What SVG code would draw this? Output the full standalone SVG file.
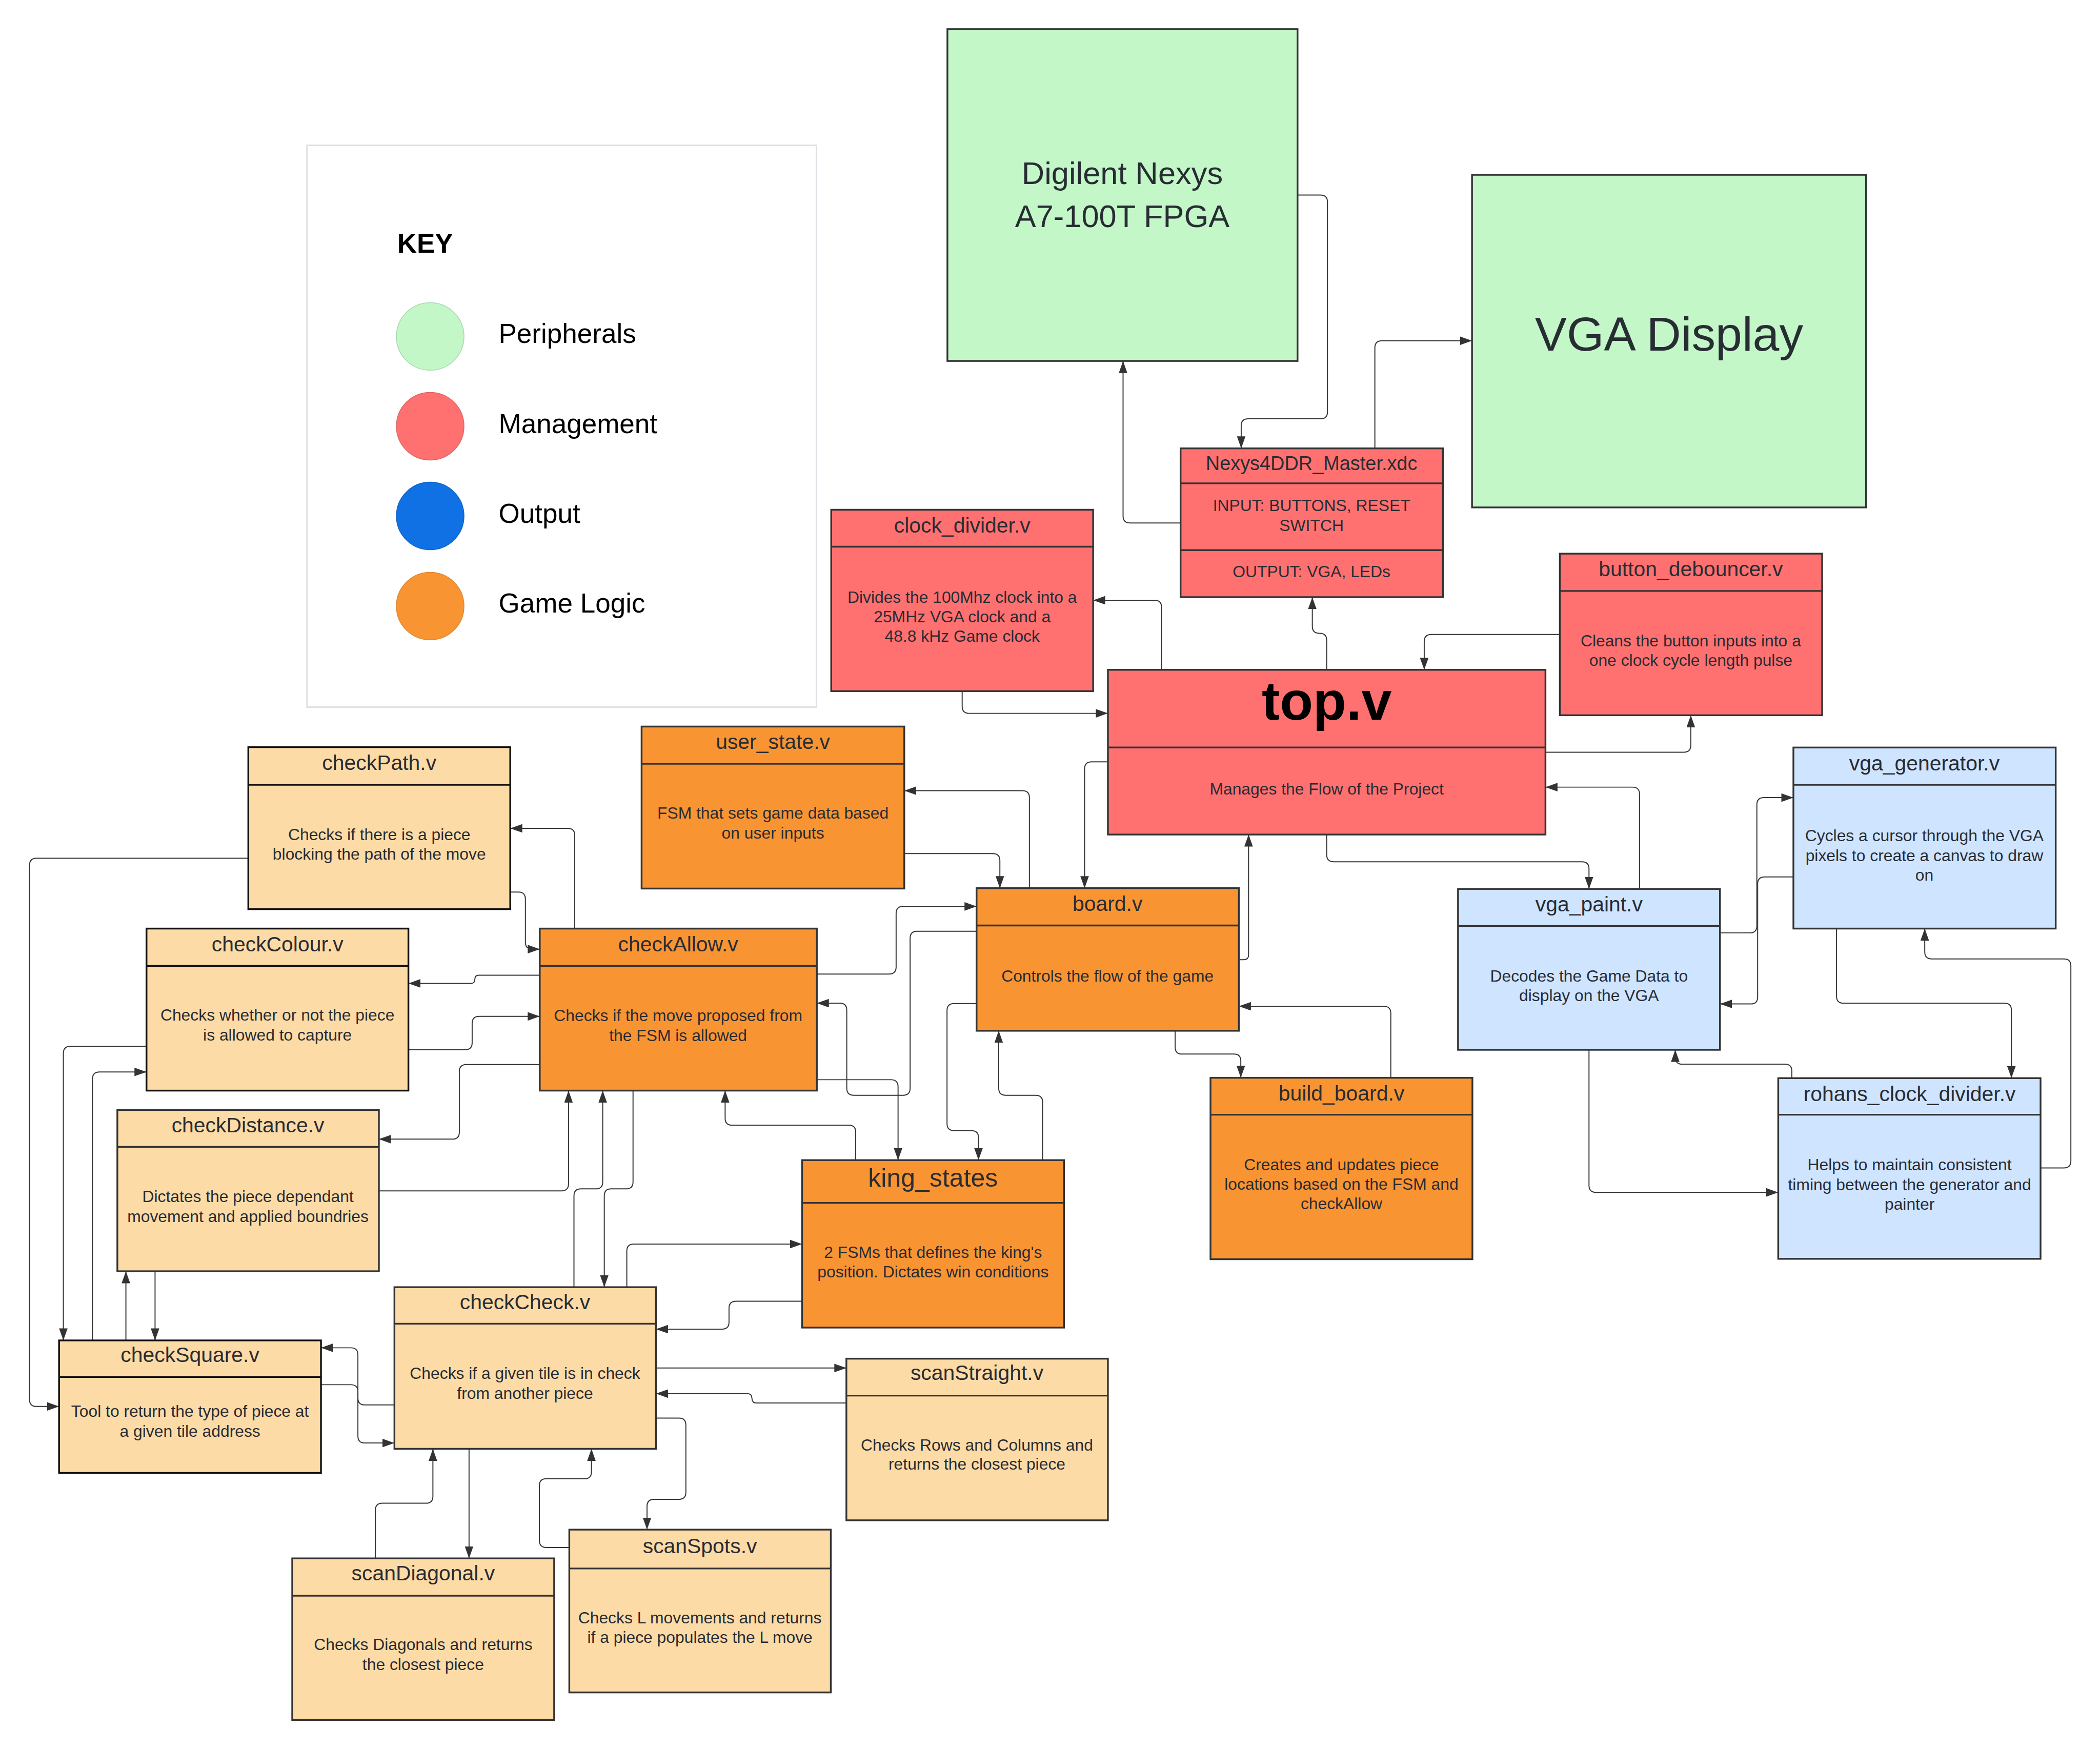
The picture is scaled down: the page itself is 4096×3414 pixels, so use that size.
<svg xmlns="http://www.w3.org/2000/svg" width="4096" height="3414" viewBox="0 0 4096 3414">
<defs>
<marker id="ar" markerUnits="userSpaceOnUse" markerWidth="32" markerHeight="22" refX="31" refY="11" orient="auto"><path d="M0,0 L31,11 L0,22 z" fill="#333"/></marker>
<style>
text{font-family:"Liberation Sans",Arial,sans-serif;fill:#282C33;text-anchor:middle}
.box{stroke:#333;stroke-width:4.5}
.g{fill:#C3F7C8}.r{fill:#FF7070}.o{fill:#F99433}.lo{fill:#FDDBA6}.lb{fill:#CFE4FF}
.dv{stroke:#333;stroke-width:4.5}
.t{font-size:54px}.x{font-size:42px}
.k{font-size:70px;fill:#000;text-anchor:start}
.c path{fill:none;stroke:#333;stroke-width:2.6;marker-end:url(#ar)}
</style>
</defs>
<rect width="4096" height="3414" fill="#fff"/>
<g transform="scale(0.75796)">
<g id="key">
<rect x="790" y="374" width="1311" height="1446" fill="#fff" stroke="#DDE1E6" stroke-width="4"/>
<text class="k" x="1022" y="651" style="font-weight:bold">KEY</text>
<circle cx="1107" cy="866" r="87" fill="#C3F7C8" stroke="#A6D8AC" stroke-width="2"/>
<circle cx="1107" cy="1097" r="87" fill="#FF7070" stroke="#E06464" stroke-width="2"/>
<circle cx="1107" cy="1328" r="87" fill="#1071E5" stroke="#0F62C6" stroke-width="2"/>
<circle cx="1107" cy="1560" r="87" fill="#F99433" stroke="#E0842C" stroke-width="2"/>
<text class="k" x="1283" y="882">Peripherals</text>
<text class="k" x="1283" y="1115">Management</text>
<text class="k" x="1283" y="1346">Output</text>
<text class="k" x="1283" y="1577">Game Logic</text>
</g>
<g class="c" id="connectors">
<path d="M3339,502 H3398 Q3416,502 3416,520 V1060 Q3416,1078 3398,1078 H3212 Q3194,1078 3194,1096 V1154"/>
<path d="M3038,1346 H2908 Q2890,1346 2890,1328 V929"/>
<path d="M3538,1154 V895 Q3538,877 3556,877 H3788"/>
<path d="M3414,1724 V1648 Q3414,1630 3396,1630 H3395 Q3377,1630 3377,1612 V1537"/>
<path d="M2989,1724 V1563 Q2989,1545 2971,1545 H2813"/>
<path d="M2476,1779 V1818 Q2476,1836 2494,1836 H2851"/>
<path d="M4014,1633 H3683 Q3665,1633 3665,1651 V1724"/>
<path d="M3977,1936 H4333 Q4351,1936 4351,1918 V1841"/>
<path d="M4219,2288 V2044 Q4219,2026 4201,2026 H3977"/>
<path d="M3414,2148 V2200 Q3414,2218 3432,2218 H4071 Q4089,2218 4089,2236 V2288"/>
<path d="M4426,2401 H4503 Q4521,2401 4521,2383 V2071 Q4521,2053 4539,2053 H4615"/>
<path d="M4615,2257 H4541 Q4523,2257 4523,2275 V2566 Q4523,2584 4505,2584 H4426"/>
<path d="M4726,2390 V2564 Q4726,2582 4744,2582 H5158 Q5176,2582 5176,2600 V2775"/>
<path d="M5251,3006 H5311 Q5329,3006 5329,2988 V2486 Q5329,2468 5311,2468 H4971 Q4953,2468 4953,2450 V2390"/>
<path d="M4611,2775 V2757 Q4611,2739 4593,2739 H4329 Q4311,2739 4311,2721 V2702"/>
<path d="M4089,2702 V3051 Q4089,3069 4107,3069 H4576"/>
<path d="M2851,1961 H2809 Q2791,1961 2791,1979 V2286"/>
<path d="M3188,2470 H3201 Q3213,2470 3213,2458 V2148"/>
<path d="M2327,2197 H2555 Q2573,2197 2573,2215 V2286"/>
<path d="M2649,2286 V2053 Q2649,2035 2631,2035 H2327"/>
<path d="M2102,2507 H2288 Q2306,2507 2306,2489 V2351 Q2306,2333 2324,2333 H2513"/>
<path d="M2513,2397 H2360 Q2342,2397 2342,2415 V2801 Q2342,2819 2324,2819 H2197 Q2179,2819 2179,2801 V2600 Q2179,2582 2161,2582 H2102"/>
<path d="M2102,2779 H2293 Q2311,2779 2311,2797 V2986"/>
<path d="M2513,2583 H2455 Q2437,2583 2437,2601 V2892 Q2437,2910 2455,2910 H2500 Q2518,2910 2518,2928 V2986"/>
<path d="M2683,2986 V2837 Q2683,2819 2665,2819 H2588 Q2570,2819 2570,2801 V2653"/>
<path d="M2202,2986 V2914 Q2202,2896 2184,2896 H1884 Q1866,2896 1866,2878 V2807"/>
<path d="M3024,2653 V2695 Q3024,2713 3042,2713 H3175 Q3193,2713 3193,2731 V2774"/>
<path d="M3579,2774 V2608 Q3579,2590 3561,2590 H3188"/>
<path d="M1479,2390 V2150 Q1479,2132 1461,2132 H1313"/>
<path d="M1313,2296 H1334 Q1352,2296 1352,2314 V2425 Q1352,2443 1370,2443 H1389"/>
<path d="M1389,2510 H1232 Q1222,2510 1222,2520 Q1222,2531 1212,2531 H1051"/>
<path d="M1051,2702 H1197 Q1215,2702 1215,2684 V2634 Q1215,2616 1233,2616 H1389"/>
<path d="M639,2209 H94 Q76,2209 76,2227 V3602 Q76,3620 94,3620 H152"/>
<path d="M377,2693 H181 Q163,2693 163,2711 V3450"/>
<path d="M238,3450 V2777 Q238,2759 256,2759 H377"/>
<path d="M324,3450 V3272"/>
<path d="M399,3272 V3450"/>
<path d="M1389,2740 H1200 Q1182,2740 1182,2758 V2914 Q1182,2932 1164,2932 H975"/>
<path d="M975,3065 H1445 Q1463,3065 1463,3047 V2807"/>
<path d="M1477,3313 V3078 Q1477,3060 1495,3060 H1533 Q1551,3060 1551,3042 V2807"/>
<path d="M1629,2807 V3042 Q1629,3060 1611,3060 H1573 Q1555,3060 1555,3078 V3313"/>
<path d="M1613,3313 V3220 Q1613,3202 1631,3202 H2064"/>
<path d="M2064,3349 H1894 Q1876,3349 1876,3367 V3403 Q1876,3421 1858,3421 H1688"/>
<path d="M1015,3616 H939 Q921,3616 921,3598 V3487 Q921,3469 903,3469 H826"/>
<path d="M826,3564 H903 Q921,3564 921,3582 V3696 Q921,3714 939,3714 H1015"/>
<path d="M1688,3521 H2178"/>
<path d="M2178,3611 H1947 Q1935,3611 1935,3599 Q1935,3587 1923,3587 H1688"/>
<path d="M1688,3650 H1747 Q1765,3650 1765,3668 V3841 Q1765,3859 1747,3859 H1683 Q1665,3859 1665,3877 V3937"/>
<path d="M1465,3983 H1406 Q1388,3983 1388,3965 V3824 Q1388,3806 1406,3806 H1504 Q1522,3806 1522,3788 V3729"/>
<path d="M966,4011 V3887 Q966,3869 984,3869 H1096 Q1114,3869 1114,3851 V3729"/>
<path d="M1207,3729 V4011"/>
</g>
<g id="digilent">
<rect class="box g" x="2438" y="75" width="901" height="854"/>
<text x="2888" y="474" style="font-size:81px">Digilent Nexys</text>
<text x="2888" y="585" style="font-size:81px">A7-100T FPGA</text>
</g>
<g id="vga_display">
<rect class="box g" x="3788" y="450" width="1014" height="856"/>
<text x="4295" y="902" style="font-size:123px">VGA Display</text>
</g>
<g id="nexys_master">
<rect class="box r" x="3038" y="1154" width="675" height="383"/>
<line class="dv" x1="3038" y1="1244" x2="3713" y2="1244"/>
<line class="dv" x1="3038" y1="1416" x2="3713" y2="1416"/>
<text x="3375" y="1210" style="font-size:50px">Nexys4DDR_Master.xdc</text>
<text class="x" x="3375" y="1316">INPUT: BUTTONS, RESET</text>
<text class="x" x="3375" y="1367">SWITCH</text>
<text class="x" x="3375" y="1486">OUTPUT: VGA, LEDs</text>
</g>
<g id="clock_divider">
<rect class="box r" x="2139" y="1312" width="674" height="467"/>
<line class="dv" x1="2139" y1="1407" x2="2813" y2="1407"/>
<text class="t" x="2476" y="1371">clock_divider.v</text>
<text class="x" x="2476" y="1552">Divides the 100Mhz clock into a</text>
<text class="x" x="2476" y="1602">25MHz VGA clock and a</text>
<text class="x" x="2476" y="1652">48.8 kHz Game clock</text>
</g>
<g id="top">
<rect class="box r" x="2851" y="1724" width="1126" height="424"/>
<line class="dv" x1="2851" y1="1924" x2="3977" y2="1924"/>
<text x="3414" y="1853" style="font-size:140px;font-weight:bold;fill:#000">top.v</text>
<text class="x" x="3414" y="2045">Manages the Flow of the Project</text>
</g>
<g id="button_debouncer">
<rect class="box r" x="4014" y="1425" width="675" height="416"/>
<line class="dv" x1="4014" y1="1521" x2="4689" y2="1521"/>
<text class="t" x="4351" y="1483">button_debouncer.v</text>
<text class="x" x="4351" y="1664">Cleans the button inputs into a</text>
<text class="x" x="4351" y="1714">one clock cycle length pulse</text>
</g>
<g id="vga_generator">
<rect class="box lb" x="4615" y="1924" width="675" height="466"/>
<line class="dv" x1="4615" y1="2020" x2="5290" y2="2020"/>
<text class="t" x="4952" y="1983">vga_generator.v</text>
<text class="x" x="4952" y="2165">Cycles a cursor through the VGA</text>
<text class="x" x="4952" y="2216">pixels to create a canvas to draw</text>
<text class="x" x="4952" y="2267">on</text>
</g>
<g id="vga_paint">
<rect class="box lb" x="3752" y="2288" width="674" height="414"/>
<line class="dv" x1="3752" y1="2383" x2="4426" y2="2383"/>
<text class="t" x="4089" y="2346">vga_paint.v</text>
<text class="x" x="4089" y="2526">Decodes the Game Data to</text>
<text class="x" x="4089" y="2576">display on the VGA</text>
</g>
<g id="rohans_clock_divider">
<rect class="box lb" x="4576" y="2775" width="675" height="465"/>
<line class="dv" x1="4576" y1="2869" x2="5251" y2="2869"/>
<text class="t" x="4914" y="2834">rohans_clock_divider.v</text>
<text class="x" x="4914" y="3012">Helps to maintain consistent</text>
<text class="x" x="4914" y="3063">timing between the generator and</text>
<text class="x" x="4914" y="3114">painter</text>
</g>
<g id="checkPath">
<rect class="box lo" x="639" y="1923" width="674" height="417" style="stroke:#111"/>
<line class="dv" x1="639" y1="2020" x2="1313" y2="2020" style="stroke:#111"/>
<text class="t" x="976" y="1982">checkPath.v</text>
<text class="x" x="976" y="2162">Checks if there is a piece</text>
<text class="x" x="976" y="2213">blocking the path of the move</text>
</g>
<g id="user_state">
<rect class="box o" x="1651" y="1870" width="676" height="417"/>
<line class="dv" x1="1651" y1="1966" x2="2327" y2="1966"/>
<text class="t" x="1989" y="1928">user_state.v</text>
<text class="x" x="1989" y="2107">FSM that sets game data based</text>
<text class="x" x="1989" y="2158">on user inputs</text>
</g>
<g id="checkColour">
<rect class="box lo" x="377" y="2390" width="674" height="417" style="stroke:#111"/>
<line class="dv" x1="377" y1="2486" x2="1051" y2="2486" style="stroke:#111"/>
<text class="t" x="714" y="2449">checkColour.v</text>
<text class="x" x="714" y="2627">Checks whether or not the piece</text>
<text class="x" x="714" y="2678">is allowed to capture</text>
</g>
<g id="checkAllow">
<rect class="box o" x="1389" y="2390" width="713" height="417"/>
<line class="dv" x1="1389" y1="2486" x2="2102" y2="2486"/>
<text class="t" x="1745" y="2449">checkAllow.v</text>
<text class="x" x="1745" y="2628">Checks if the move proposed from</text>
<text class="x" x="1745" y="2679">the FSM is allowed</text>
</g>
<g id="board">
<rect class="box o" x="2513" y="2286" width="675" height="367"/>
<line class="dv" x1="2513" y1="2382" x2="3188" y2="2382"/>
<text class="t" x="2850" y="2344">board.v</text>
<text class="x" x="2850" y="2526">Controls the flow of the game</text>
</g>
<g id="build_board">
<rect class="box o" x="3115" y="2774" width="674" height="467"/>
<line class="dv" x1="3115" y1="2869" x2="3789" y2="2869"/>
<text class="t" x="3452" y="2832">build_board.v</text>
<text class="x" x="3452" y="3012">Creates and updates piece</text>
<text class="x" x="3452" y="3062">locations based on the FSM and</text>
<text class="x" x="3452" y="3112">checkAllow</text>
</g>
<g id="king_states">
<rect class="box o" x="2064" y="2986" width="674" height="431"/>
<line class="dv" x1="2064" y1="3096" x2="2738" y2="3096"/>
<text x="2401" y="3054" style="font-size:66px">king_states</text>
<text class="x" x="2401" y="3238">2 FSMs that defines the king's</text>
<text class="x" x="2401" y="3288">position. Dictates win conditions</text>
</g>
<g id="checkDistance">
<rect class="box lo" x="302" y="2857" width="673" height="415"/>
<line class="dv" x1="302" y1="2952" x2="975" y2="2952"/>
<text class="t" x="638" y="2914">checkDistance.v</text>
<text class="x" x="638" y="3094">Dictates the piece dependant</text>
<text class="x" x="638" y="3145">movement and applied boundries</text>
</g>
<g id="checkSquare">
<rect class="box lo" x="152" y="3450" width="674" height="341" style="stroke:#111"/>
<line class="dv" x1="152" y1="3544" x2="826" y2="3544" style="stroke:#111"/>
<text class="t" x="489" y="3506">checkSquare.v</text>
<text class="x" x="489" y="3647">Tool to return the type of piece at</text>
<text class="x" x="489" y="3698">a given tile address</text>
</g>
<g id="checkCheck">
<rect class="box lo" x="1015" y="3313" width="673" height="416"/>
<line class="dv" x1="1015" y1="3407" x2="1688" y2="3407"/>
<text class="t" x="1351" y="3369">checkCheck.v</text>
<text class="x" x="1351" y="3549">Checks if a given tile is in check</text>
<text class="x" x="1351" y="3600">from another piece</text>
</g>
<g id="scanStraight">
<rect class="box lo" x="2178" y="3497" width="673" height="416"/>
<line class="dv" x1="2178" y1="3592" x2="2851" y2="3592"/>
<text class="t" x="2514" y="3552">scanStraight.v</text>
<text class="x" x="2514" y="3734">Checks Rows and Columns and</text>
<text class="x" x="2514" y="3783">returns the closest piece</text>
</g>
<g id="scanSpots">
<rect class="box lo" x="1465" y="3937" width="673" height="419"/>
<line class="dv" x1="1465" y1="4037" x2="2138" y2="4037"/>
<text class="t" x="1801" y="3997">scanSpots.v</text>
<text class="x" x="1801" y="4178">Checks L movements and returns</text>
<text class="x" x="1801" y="4229">if a piece populates the L move</text>
</g>
<g id="scanDiagonal">
<rect class="box lo" x="752" y="4011" width="674" height="416"/>
<line class="dv" x1="752" y1="4107" x2="1426" y2="4107"/>
<text class="t" x="1089" y="4067">scanDiagonal.v</text>
<text class="x" x="1089" y="4247">Checks Diagonals and returns</text>
<text class="x" x="1089" y="4298">the closest piece</text>
</g>
</g>
</svg>
